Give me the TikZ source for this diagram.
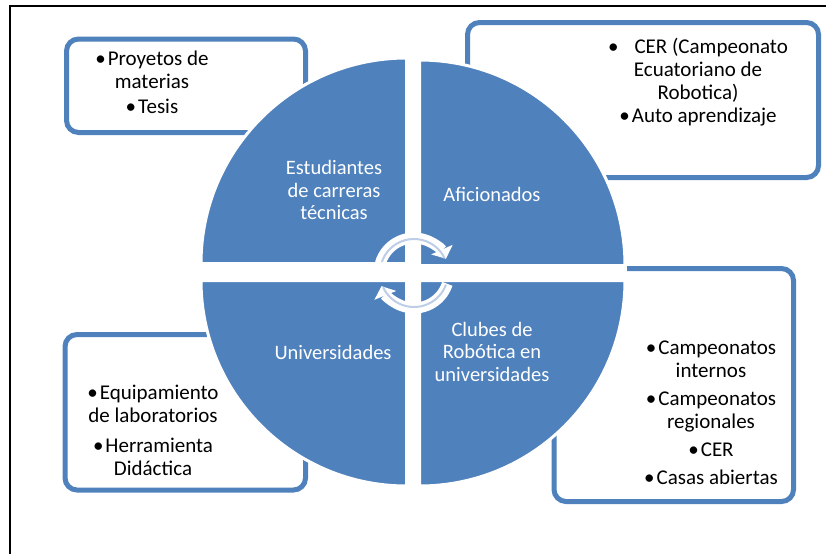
\documentclass[tikz,border=0pt]{standalone}
\usepackage{fontspec}
\setmainfont{Carlito}
\usetikzlibrary{arrows.meta}
\definecolor{qblue}{RGB}{79,129,189}
\definecolor{pale}{RGB}{190,206,230}
\begin{document}
\begin{tikzpicture}[x=1pt,y=-1pt,
  quad/.style={fill=qblue,draw=white,line width=3pt},
  callout/.style={draw=qblue,line width=5pt,fill=white,rounded corners=12pt,inner sep=0pt},
  wtext/.style={text=white,align=center,font=\fontsize{20.5}{22.5}\selectfont,inner sep=0pt},
  btext/.style={text=black,align=center,font=\fontsize{21}{23}\selectfont,inner sep=0pt},
  cyc/.style={white,line width=11pt,-{Triangle[length=10pt,width=23pt]}},
  cycin/.style={pale,line width=2pt}]
\useasboundingbox (0,0) rectangle (826,554);
% frame
\draw[black,line width=2pt] (10,554) -- (10,6) -- (826,6);
% callout boxes
\node[callout,minimum width=239pt,minimum height=93.5pt] (boxTL) at (186,85.75) {};
\node[callout,minimum width=351pt,minimum height=155pt] (boxTR) at (643,100) {};
\node[callout,minimum width=240.5pt,minimum height=155.5pt] (boxBL) at (185.25,412.25) {};
\node[callout,minimum width=239.5pt,minimum height=233pt] (boxBR) at (673.75,385) {};
% gap between the right quadrants
\fill[white] (551,265) rectangle (627,280);
% quadrants
\path[quad] (406.5,263.5) -- ++(-205.5,0) arc[start angle=180,end angle=270,radius=205.5] -- cycle;
\path[quad] (419.5,265.5) -- ++(0,-205.5) arc[start angle=270,end angle=360,radius=205.5] -- cycle;
\path[quad] (419.5,280.5) -- ++(205.5,0) arc[start angle=0,end angle=90,radius=205.5] -- cycle;
\path[quad] (406.5,280.5) -- ++(0,205.5) arc[start angle=90,end angle=180,radius=205.5] -- cycle;
% circular arrows
\coordinate (cc) at (414,273);
\draw[cyc] (cc) ++(196:35) arc[start angle=196,end angle=336,radius=35];
\draw[cycin] (cc) ++(199:34) arc[start angle=199,end angle=334,radius=34];
\draw[cyc] (cc) ++(18:35) arc[start angle=18,end angle=158,radius=35];
\draw[cycin] (cc) ++(20:34) arc[start angle=20,end angle=155,radius=34];
% quadrant texts
\node[wtext] (est) at (334,190) {Estudiantes\\de carreras\\técnicas};
\node[wtext] (afi) at (492,194) {Aficionados};
\node[wtext] (uni) at (333,352) {Universidades};
\node[wtext] (clu) at (492,351.5) {Clubes de\\Robótica en\\universidades};
% box texts
\node[btext] (tTL) at (152,82) {\textbullet\hspace{2pt}Proyetos de\\materias\\[2pt]\textbullet\hspace{2pt}Tesis};
\node[btext] (tTR) at (698,82) {\textbullet\hspace{16pt}CER (Campeonato\\Ecuatoriano de\\Robotica)\\\textbullet\hspace{2pt}Auto aprendizaje};
\node[btext] (tBL) at (153,430) {\textbullet\hspace{2pt}Equipamiento\\de laboratorios\\[7pt]\textbullet\hspace{2pt}Herramienta\\Didáctica};
\node[btext] (tBR) at (711,413) {\textbullet\hspace{2pt}Campeonatos\\internos\\[5pt]\textbullet\hspace{2pt}Campeonatos\\regionales\\[5pt]\textbullet\hspace{2pt}CER\\[5pt]\textbullet\hspace{2pt}Casas abiertas};
\end{tikzpicture}
\end{document}
